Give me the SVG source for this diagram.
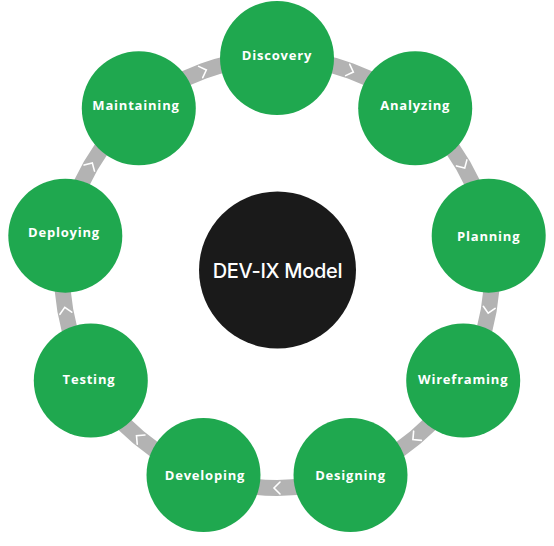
<svg xmlns="http://www.w3.org/2000/svg" width="554" height="546" viewBox="0 0 554 546">
  <style>
    .ring { fill: none; stroke: #b3b3b3; stroke-width: 16; }
    .chev { fill: none; stroke: #ffffff; stroke-width: 1.6; stroke-linecap: round; stroke-linejoin: miter; }
    .node { fill: #1fa84f; }
    .lbl { fill: #ffffff; font-family: "Open Sans", "Noto Sans", sans-serif; font-weight: 700; font-size: 13px; letter-spacing: 0.8px; text-anchor: middle; }
    .core { fill: #1a1a1a; }
    .corelbl { fill: #ffffff; font-family: Inter, "Noto Sans", sans-serif; font-weight: 500; font-size: 20px; letter-spacing: -0.3px; text-anchor: middle; }
  </style>
  <defs>
    <polyline id="chevron" class="chev" points="-3,-6 3,0 -3,6"/>
  </defs>
  <rect width="554" height="546" fill="#ffffff"/>
  <g id="connectors">
    <path class="ring" d="M277,58 A215,215 0 0 1 415.2,108.3"/>
    <path class="ring" d="M415.2,108.3 A215,215 0 0 1 488.7,235.7"/>
    <path class="ring" d="M488.7,235.7 A215,215 0 0 1 463.2,380.5"/>
    <path class="ring" d="M463.2,380.5 A215,215 0 0 1 350.5,475"/>
    <path class="ring" d="M350.5,475 A215,215 0 0 1 203.5,475"/>
    <path class="ring" d="M203.5,475 A215,215 0 0 1 90.8,380.5"/>
    <path class="ring" d="M90.8,380.5 A215,215 0 0 1 65.3,235.7"/>
    <path class="ring" d="M65.3,235.7 A215,215 0 0 1 138.8,108.3"/>
    <path class="ring" d="M138.8,108.3 A215,215 0 0 1 277,58"/>
    <use href="#chevron" transform="translate(203.5,71) rotate(-20)"/>
    <use href="#chevron" transform="translate(350.5,71) rotate(20)"/>
    <use href="#chevron" transform="translate(463.2,165.5) rotate(60)"/>
    <use href="#chevron" transform="translate(488.7,310.3) rotate(100)"/>
    <use href="#chevron" transform="translate(415.2,437.7) rotate(140)"/>
    <use href="#chevron" transform="translate(277,488) rotate(180)"/>
    <use href="#chevron" transform="translate(138.8,437.7) rotate(220)"/>
    <use href="#chevron" transform="translate(65.3,310.3) rotate(260)"/>
    <use href="#chevron" transform="translate(90.8,165.5) rotate(300)"/>
  </g>
  <g id="node-core">
    <circle class="core" cx="277.5" cy="270" r="78.5"/>
    <text class="corelbl" x="277.5" y="278">DEV-IX Model</text>
  </g>
  <g id="node-discovery">
    <circle class="node" cx="277" cy="58" r="57"/>
    <text class="lbl" x="277" y="60">Discovery</text>
  </g>
  <g id="node-analyzing">
    <circle class="node" cx="415.2" cy="108.3" r="57"/>
    <text class="lbl" x="415.2" y="110">Analyzing</text>
  </g>
  <g id="node-planning">
    <circle class="node" cx="488.7" cy="235.7" r="57"/>
    <text class="lbl" x="488.7" y="241">Planning</text>
  </g>
  <g id="node-wireframing">
    <circle class="node" cx="463.2" cy="380.5" r="57"/>
    <text class="lbl" x="463.2" y="384">Wireframing</text>
  </g>
  <g id="node-designing">
    <circle class="node" cx="350.5" cy="475" r="57"/>
    <text class="lbl" x="350.5" y="480">Designing</text>
  </g>
  <g id="node-developing">
    <circle class="node" cx="203.5" cy="475" r="57"/>
    <text class="lbl" x="205" y="480">Developing</text>
  </g>
  <g id="node-testing">
    <circle class="node" cx="90.8" cy="380.5" r="57"/>
    <text class="lbl" x="89" y="384">Testing</text>
  </g>
  <g id="node-deploying">
    <circle class="node" cx="65.3" cy="235.7" r="57"/>
    <text class="lbl" x="64" y="237">Deploying</text>
  </g>
  <g id="node-maintaining">
    <circle class="node" cx="138.8" cy="108.3" r="57"/>
    <text class="lbl" x="136" y="110">Maintaining</text>
  </g>
</svg>
